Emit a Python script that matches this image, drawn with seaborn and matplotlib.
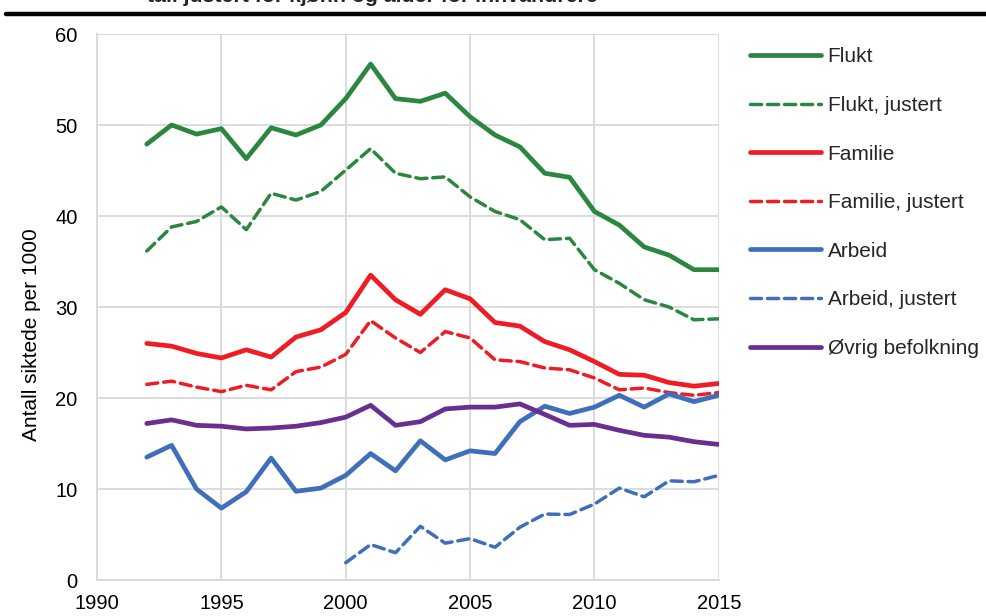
import matplotlib.pyplot as plt
import seaborn as sns

# Values (per 1000)
years = list(range(1992, 2016))
flukt = [47.9, 50.0, 49.0, 49.6, 46.3, 49.7, 48.9, 50.0, 52.9, 56.7, 52.9, 52.6,
         53.5, 50.9, 48.9, 47.6, 44.7, 44.25, 40.5, 39.0, 36.6, 35.7, 34.1, 34.1]
flukt_adj = [36.15, 38.8, 39.4, 41.0, 38.5, 42.5, 41.75, 42.7, 45.05, 47.4, 44.7, 44.1,
             44.3, 42.1, 40.5, 39.6, 37.4, 37.55, 34.1, 32.6, 30.8, 30.0, 28.6, 28.7]
familie = [26.0, 25.7, 24.9, 24.4, 25.3, 24.5, 26.7, 27.5, 29.4, 33.5, 30.8, 29.2,
           31.9, 30.9, 28.3, 27.9, 26.2, 25.3, 24.0, 22.6, 22.5, 21.7, 21.3, 21.6]
familie_adj = [21.5, 21.85, 21.2, 20.7, 21.4, 20.9, 22.9, 23.4, 24.8, 28.5, 26.6, 25.0,
               27.3, 26.6, 24.2, 24.0, 23.3, 23.1, 22.2, 20.9, 21.1, 20.6, 20.3, 20.6]
arbeid = [13.5, 14.8, 10.0, 7.9, 9.7, 13.4, 9.75, 10.1, 11.5, 13.9, 12.0, 15.3,
          13.2, 14.2, 13.9, 17.4, 19.1, 18.3, 19.0, 20.3, 19.0, 20.45, 19.6, 20.3]
years_arbeid_adj = list(range(2000, 2016))
arbeid_adj = [1.9, 3.9, 3.0, 5.9, 4.05, 4.55, 3.6, 5.8, 7.25, 7.2, 8.35, 10.1,
              9.15, 10.9, 10.8, 11.5]
ovrig = [17.2, 17.6, 17.0, 16.9, 16.6, 16.7, 16.9, 17.3, 17.9, 19.2, 17.0, 17.4,
         18.8, 19.0, 19.0, 19.35, 18.2, 17.0, 17.1, 16.45, 15.9, 15.7, 15.2, 14.9]

GREEN = "#2B8740"
RED = "#EE1D25"
BLUE = "#3F6FBA"
PURPLE = "#6A2D91"

sns.set_theme(style="whitegrid")
plt.rcParams["font.family"] = ["Liberation Sans", "DejaVu Sans"]

fig = plt.figure(figsize=(9.87, 6.16), dpi=100)
ax = fig.add_axes([0.0983, 0.0584, 0.630, 0.8864])

series = [
    (years, flukt, GREEN, "-", "Flukt"),
    (years, flukt_adj, GREEN, "--", "Flukt, justert"),
    (years, familie, RED, "-", "Familie"),
    (years, familie_adj, RED, "--", "Familie, justert"),
    (years, arbeid, BLUE, "-", "Arbeid"),
    (years_arbeid_adj, arbeid_adj, BLUE, "--", "Arbeid, justert"),
    (years, ovrig, PURPLE, "-", "Øvrig befolkning"),
]
for x, y, color, ls, label in series:
    lw = 3.4 if ls == "-" else 2.5
    sns.lineplot(x=x, y=y, ax=ax, color=color, linewidth=lw, label=label)
    l = ax.lines[-1]
    l.set_solid_capstyle("round")
    if ls == "--":
        l.set_linestyle((0, (3.2, 1.7)))
        l.set_dash_capstyle("round")

ax.set_xlim(1990, 2015)
ax.set_ylim(0, 60)
ax.set_xticks(range(1990, 2016, 5))
ax.set_yticks(range(0, 61, 10))
ax.grid(True, color="#D9D9D9", linewidth=1.3)
for side in ["top", "right"]:
    ax.spines[side].set_visible(False)
for side in ["left", "bottom"]:
    ax.spines[side].set_color("#D9D9D9")
    ax.spines[side].set_linewidth(1.3)
ax.tick_params(axis="both", length=0, labelsize=14.5, colors="black")
ax.tick_params(axis="y", pad=14)
ax.tick_params(axis="x", pad=10)
ax.set_xlabel("")
ax.set_ylabel("Antall siktede per 1000", fontsize=15, color="black")
ax.yaxis.set_label_coords(-0.090, 0.45)

ax.legend(loc="upper left", bbox_to_anchor=(1.024, 1.006), frameon=False,
          fontsize=15, handlelength=3.4, handletextpad=0.3, labelspacing=1.42,
          borderaxespad=0.4)

# header text cut off at the top, with the heavy rule under it
fig.text(0.149, 0.9965, "tall justert for kjønn og alder for innvandrere",
         fontsize=15.3, fontweight="bold", ha="left", va="baseline")
fig.add_artist(plt.Line2D([0.006, 1.0], [1 - 14 / 616, 1 - 14 / 616],
                          color="black", linewidth=3.2, transform=fig.transFigure))

fig.savefig("out.png", dpi=100)
